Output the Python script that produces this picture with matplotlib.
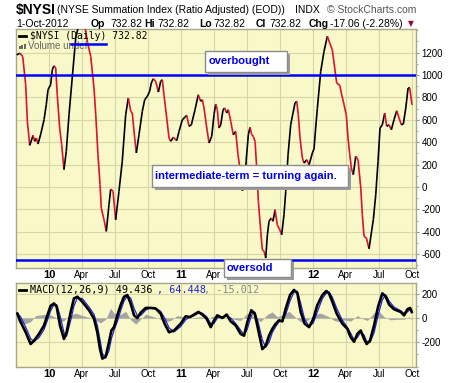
import numpy as np
import matplotlib
matplotlib.use("Agg")
import matplotlib.pyplot as plt
from matplotlib.collections import LineCollection
from matplotlib.patches import Rectangle

plt.rcParams['axes.unicode_minus'] = False
plt.rcParams['font.family'] = ['Liberation Sans', 'DejaVu Sans']

W, H = 460, 383

# time in months since Jan 2010
nysi_t = [-2.94, -2.64, -2.39, -2.12, -1.97, -1.75, -1.45, -1.30, -1.15, -1.00, -0.75, -0.45, -0.25, -0.09,
          0.15, 0.30, 0.45, 0.61, 0.75, 0.97, 1.15, 1.36, 1.57, 1.82, 2.03, 2.27, 2.43, 2.68, 3.00, 3.27,
          3.50, 3.79, 4.09, 4.25, 4.45, 4.64, 4.75, 5.00, 5.21, 5.45, 5.61, 5.82, 6.06, 6.36, 6.66, 6.97,
          7.21, 7.43, 7.57, 7.79, 7.94, 8.18, 8.48, 8.70, 8.94, 9.15, 9.30, 9.48, 9.70, 9.94, 10.15, 10.30,
          10.45, 10.70, 10.91, 11.06, 11.30, 11.61, 11.82, 12.12, 12.34, 12.52, 12.73, 12.94, 13.27, 13.57,
          13.79, 13.94, 14.09, 14.34, 14.55, 14.79, 15.00, 15.15, 15.30, 15.45, 15.61, 15.82, 15.97, 16.15,
          16.30, 16.52, 16.75, 16.97, 17.18, 17.43, 17.57, 17.79, 17.94, 18.12, 18.27, 18.43, 18.57, 18.73,
          18.88, 19.03, 19.25, 19.39, 19.55, 19.70, 19.85, 20.00, 20.21, 20.36, 20.55, 20.75, 20.97, 21.15,
          21.36, 21.52, 21.73, 21.97, 22.18, 22.36, 22.52, 22.66, 22.82, 23.03, 23.18, 23.43, 23.64, 23.94,
          24.09, 24.24, 24.39, 24.70, 25.00, 25.30, 25.52, 25.75, 25.97, 26.15, 26.43, 26.61, 26.82, 27.03,
          27.18, 27.34, 27.48, 27.66, 27.88, 28.09, 28.34, 28.48, 28.64, 28.85, 29.09, 29.30, 29.48, 29.70,
          29.91, 30.09, 30.30, 30.52, 30.70, 30.91, 31.12, 31.36, 31.61, 31.82, 32.03, 32.21, 32.43, 32.64,
          32.79, 33.00]
nysi_v = [1180, 1195, 1165, 914, 590, 372, 461, 408, 437, 384, 473, 601, 735, 869,
          914, 1048, 1083, 1063, 824, 527, 378, 155, 319, 646, 884, 1152, 1331, 1440, 1470, 1430,
          1290, 1167, 884, 646, 289, 21, -188, -292, -396, -158, -18, -38, -292, -38, 230, 646,
          795, 676, 661, 437, 304, 467, 676, 780, 810, 855, 929, 967, 944, 848, 944, 958,
          824, 616, 437, 408, 444, 414, 497, 601, 622, 640, 542, 556, 690, 824,
          765, 780, 705, 527, 393, 453, 646, 741, 690, 527, 556, 690, 705, 661,
          690, 587, 467, 497, 289, 110, -33, 21, 259, 467, 533, 467, 453, 408,
          170, -128, -396, -560, -574, -634, -426, -306, -277, -306, -203, -337, -381, -426,
          -247, -38, 289, 556, 661, 750, 765, 646, 437, 259, 214, 244, 199, 304,
          340, 527, 700, 1033, 1212, 1346, 1286, 1226, 1063, 929, 908, 824, 735, 640,
          437, 289, 170, 110, 274, 244, -9, -247, -440, -455, -551, -411, -292, -69,
          230, 527, 556, 661, 542, 556, 512, 601, 681, 616, 556, 563, 705, 884,
          884, 733]

macd_t = [-2.88, -2.58, -2.12, -1.67, -1.36, -0.91, -0.45, -0.15, 0.15, 0.45, 0.70, 1.00, 1.36, 1.60,
          1.97, 2.27, 2.58, 3.03, 3.64, 4.09, 4.39, 4.64, 4.85, 5.15, 5.45, 5.67, 5.91, 6.21, 6.51,
          6.82, 7.12, 7.42, 7.73, 8.03, 8.33, 8.79, 9.24, 9.70, 10.15, 10.51, 10.91, 11.36, 11.97,
          12.42, 12.82, 13.18, 13.58, 13.94, 14.33, 14.70, 15.00, 15.30, 15.76, 16.15, 16.52, 16.97,
          17.42, 17.73, 18.03, 18.39, 18.70, 19.00, 19.39, 19.70, 20.00, 20.30, 20.61, 20.91, 21.21,
          21.52, 21.91, 22.27, 22.58, 22.88, 23.24, 23.64, 24.03, 24.39, 24.85, 25.21, 25.45, 25.76,
          26.15, 26.67, 27.12, 27.42, 27.73, 28.03, 28.33, 28.64, 28.88, 29.18, 29.55, 29.91, 30.30,
          30.61, 30.91, 31.36, 31.97, 32.27, 32.58, 32.82, 32.97]
macd_v = [36, -33, -117, -214, -186, -131, -61, 22, 100, 120, 92, -61, -172, -117,
          50, 161, 175, 133, 64, -6, -117, -256, -334, -317, -200, -103, -75, 22, 106,
          175, 189, 120, 22, 0, 44, 83, 83, 78, 36, -47, -117, -103, -47,
          14, 8, 28, 50, 28, -6, -75, -19, 22, 0, 28, -28, -61,
          -131, -145, -33, 64, 36, -89, -256, -228, -145, -89, -47, -19, -28,
          78, 189, 231, 203, 50, -47, -75, -6, 106, 189, 222, 203, 133,
          36, -47, -89, -158, -195, -131, -103, -172, -214, -186, -61, 92, 203,
          175, 111, 72, 50, 22, 72, 83, 49]
signal_v = [40, 10, -75, -170, -195, -160, -95, -20, 60, 110, 110, 20, -120, -150,
            -20, 100, 165, 160, 90, 30, -60, -180, -290, -330, -270, -170, -100, -30, 60,
            140, 180, 165, 80, 20, 20, 65, 85, 80, 55, 0, -80, -115, -70,
            -15, 10, 18, 40, 40, 10, -45, -45, 0, 10, 18, 0, -45,
            -100, -140, -90, 20, 50, -30, -180, -240, -200, -120, -70, -30, -25,
            30, 140, 215, 220, 120, -10, -70, -40, 50, 160, 205, 215, 170,
            80, -20, -75, -125, -180, -160, -115, -140, -195, -200, -120, 20, 150,
            190, 140, 90, 60, 35, 50, 70, 64]

hist_t = [-2.88, -2.27, -1.67, -1.21, -0.45, 0.15, 0.61, 1.06, 1.36, 1.82, 2.43, 2.88, 3.64, 4.24,
          4.70, 5.15, 5.61, 5.91, 6.52, 6.97, 7.43, 7.88, 8.33, 8.79, 9.55, 10.15, 10.61, 11.06,
          11.67, 12.27, 12.88, 13.79, 14.39, 14.85, 15.46, 16.21, 16.82, 17.42, 18.03, 18.64, 19.24,
          19.85, 20.30, 20.76, 21.36, 21.82, 22.58, 23.03, 23.49, 24.09, 24.70, 25.46, 25.91, 26.36,
          26.82, 27.43, 28.03, 28.49, 28.94, 29.55, 30.00, 30.46, 31.06, 31.67, 32.27, 32.73, 32.97]
hist_v = [-20, -50, -30, 20, 30, 25, 5, -30, -20, 20, 40, 25, 5, -20,
          -40, -10, 80, 40, 30, 55, -15, -50, -10, 30, 10, -10, -30, -20,
          20, 10, 0, 10, -10, 15, -5, 5, -10, -20, 40, 10, -30,
          30, 50, 10, 30, 55, -10, -40, -20, 30, 40, 10, -20, -30,
          -15, -25, 20, -5, -20, 45, 55, 10, -15, -10, -10, 10, -15]

tick_pos = [0, 3, 6, 9, 12, 15, 18, 21, 24, 27, 30, 33]
tick_lab = ['10', 'Apr', 'Jul', 'Oct', '11', 'Apr', 'Jul', 'Oct', '12', 'Apr', 'Jul', 'Oct']
# labels hidden behind the "oversold" box in the upper panel
hidden_top = ['', '', '', '', '', '', 'x', 'x', '', '', '', '']

panel_bg = '#f8f8c9'
grid_c = '#d6d6a6'
edge_c = '#a8a888'


def fx(x):
    return x / W


def fy(y):
    return 1 - y / H


def style_axis(ax, yticks, labels):
    ax.set_facecolor(panel_bg)
    ax.set_xlim(-3.0, 33.36)
    ax.set_xticks(tick_pos)
    ax.set_xticklabels(labels)
    for lab in ax.get_xticklabels():
        if lab.get_text().isdigit():
            lab.set_fontweight('bold')
            lab.set_fontsize(8)
        else:
            lab.set_fontsize(7)
    ax.set_yticks(yticks)
    ax.yaxis.tick_right()
    ax.tick_params(axis='y', labelsize=7, length=2, direction='out', color='#999977', pad=2)
    ax.tick_params(axis='x', length=0, pad=1.5)
    ax.grid(True, color=grid_c, lw=0.8)
    ax.set_axisbelow(True)
    for s in ax.spines.values():
        s.set_color(edge_c)
        s.set_linewidth(1)


fig = plt.figure(figsize=(W / 100, H / 100), dpi=100)
fig.patch.set_facecolor('white')

top_labels = [l if h == '' else '' for l, h in zip(tick_lab, hidden_top)]
ax = fig.add_axes([fx(16), fy(268), fx(400), 239 / H])
style_axis(ax, list(range(-600, 1201, 200)), top_labels)
ax.set_ylim(-723, 1411)
ax.set_yticks(list(range(-700, 1401, 100)), minor=True)
ax.tick_params(axis='y', which='minor', length=1.5, direction='out', color='#999977')

t = np.array(nysi_t)
v = np.array(nysi_v)
segs = np.stack([np.column_stack([t[:-1], v[:-1]]), np.column_stack([t[1:], v[1:]])], axis=1)
cols = ['black' if d >= 0 else '#dd1133' for d in np.diff(v)]
ax.add_collection(LineCollection(segs, colors=cols, linewidths=1.2, zorder=3))

ax.axhline(1000, color='#0000ff', lw=1.8, zorder=4)
ax.axhline(-650, color='#0000ff', lw=1.8, zorder=4)

# MACD panel
ax2 = fig.add_axes([fx(16), fy(367), fx(400), 84 / H])
style_axis(ax2, [-200, 0, 200], tick_lab)
ax2.set_ylim(-403, 288)
ax2.set_yticks(list(range(-400, 300, 100)), minor=True)
ax2.tick_params(axis='y', which='minor', length=1.5, direction='out', color='#999977')
ax2.fill_between(hist_t, 0, hist_v, color='#a4a4a4', lw=0, zorder=2)
ax2.plot(macd_t, signal_v, color='#2222dd', lw=0.9, zorder=3)
ax2.plot(macd_t, macd_v, color='black', lw=1.9, zorder=4)

# header
fig.text(fx(16), fy(10), '$NYSI', fontsize=10, fontweight='bold', va='center')
fig.text(fx(57), fy(10), '(NYSE Summation Index (Ratio Adjusted) (EOD))', fontsize=7.5, va='center')
fig.text(fx(295), fy(10), 'INDX', fontsize=7.5, va='center')
fig.text(fx(416), fy(10), '\u00a9 StockCharts.com', fontsize=7.5, va='center', ha='right', color='#555555')

fig.text(fx(16), fy(24), '1-Oct-2012', fontsize=7.5, va='center')
hdr = [(91, 'Op', True), (110, '732.82', False), (144, 'Hi', True), (157, '732.82', False),
       (199, 'Lo', True), (213, '732.82', False), (256, 'Cl', True), (269, '732.82', False),
       (309, 'Chg', True), (330, '-17.06 (-2.28%)', False)]
for x, s, b in hdr:
    fig.text(fx(x), fy(24), s, fontsize=7.5, va='center', fontweight='bold' if b else 'normal')
fig.text(fx(408), fy(24), '\u25bc', fontsize=5.5, va='center', color='#990033', family='DejaVu Sans')

# legends inside panels
fig.add_artist(plt.Line2D([fx(19), fx(26)], [fy(36), fy(36)], color='black', lw=2, zorder=6))
fig.text(fx(30), fy(36), '$NYSI (Daily) 732.82', fontsize=7, family='DejaVu Sans Mono', va='center', zorder=6)
for i in range(3):
    fig.add_artist(Rectangle((fx(19 + i * 2.5), fy(49)), fx(1.6), (3 + i) / H, transform=fig.transFigure,
                             fc='#666666', ec='none', zorder=6))
fig.text(fx(28), fy(46), 'Volume undef', fontsize=7, color='#666666', va='center', zorder=6)
fig.add_artist(plt.Line2D([fx(71), fx(106)], [fy(43.5), fy(43.5)], color='#0000ff', lw=1.8, zorder=7))

fig.add_artist(plt.Line2D([fx(19), fx(26)], [fy(290), fy(290)], color='black', lw=2, zorder=6))
fig.text(fx(30), fy(290), 'MACD(12,26,9) 49.436', fontsize=7.3, family='DejaVu Sans Mono', va='center', zorder=6)
fig.text(fx(157), fy(290), ', 64.448', fontsize=7.3, family='DejaVu Sans Mono', va='center', color='#2222cc', zorder=6)
fig.text(fx(204), fy(290), ', -15.012', fontsize=7.3, family='DejaVu Sans Mono', va='center', color='#888888', zorder=6)


def note(x0, y0, x1, y1, label, tx):
    fig.add_artist(Rectangle((fx(x0 + 3), fy(y1 + 3)), fx(x1 - x0), (y1 - y0) / H, transform=fig.transFigure,
                             fc='#9c9c9c', ec='none', zorder=8))
    fig.add_artist(Rectangle((fx(x0), fy(y1)), fx(x1 - x0), (y1 - y0) / H, transform=fig.transFigure,
                             fc='white', ec='#8c8c8c', lw=1, zorder=9))
    fig.text(fx(tx), fy((y0 + y1) / 2), label, fontsize=8, fontweight='bold', color='#0000ee',
             va='center', zorder=10)


note(205, 51, 287, 72, 'overbought', 209)
note(152, 165, 348, 187, 'intermediate-term = turning again.', 155)
note(224, 259, 291, 277, 'oversold', 227)

fig.savefig('out.png', dpi=100)
